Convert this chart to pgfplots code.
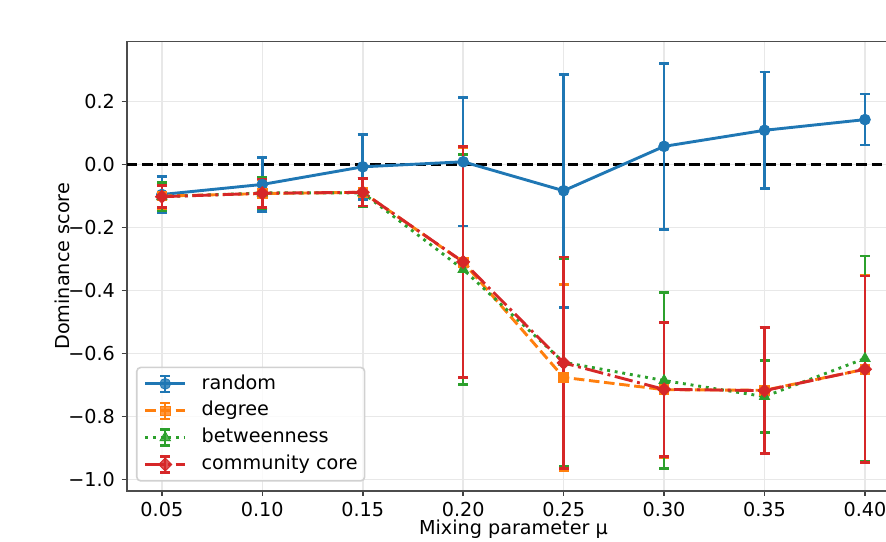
\documentclass[border=0pt]{standalone}
\usepackage{fontspec}
\setmainfont{DejaVu Sans}
\usepackage{pgfplots}
\pgfplotsset{compat=1.18}

\definecolor{cblue}{HTML}{1F77B4}
\definecolor{corange}{HTML}{FF7F0E}
\definecolor{cgreen}{HTML}{2CA02C}
\definecolor{cred}{HTML}{D62728}

\pgfplotsset{
  % legend handle: line, vertical error bar with caps, marker
  errleg/.style={legend image code/.code={
      \draw[##1, mark=none] (0pt,0pt) -- (20pt,0pt);
      \draw[##1, solid, mark=none, line width=1.2pt]
        (10pt,-4pt) -- (10pt,4pt)
        (7.5pt,-4pt) -- (12.5pt,-4pt)
        (7.5pt,4pt) -- (12.5pt,4pt);
      \draw[##1, only marks] plot coordinates {(10pt,0pt)};
  }},
  series/.style={color=#1, line width=1.45pt,
    mark options={solid, fill=#1, draw=#1, line width=0.4pt},
    error bars/y dir=both, error bars/y explicit,
    error bars/error bar style={solid, line width=1.3pt, color=#1},
    error bars/error mark options={solid, rotate=90, mark size=2.5pt, line width=1.3pt, color=#1},
    errleg},
}

\begin{document}
\fontsize{9.6}{11.5}\selectfont
\begin{tikzpicture}
\begin{axis}[
  name=ax,
  scale only axis, width=386.7pt, height=224.5pt,
  xmin=0.0325, xmax=0.4175, ymin=-1.036, ymax=0.3905,
  xtick={0.05,0.10,0.15,0.20,0.25,0.30,0.35,0.40},
  xticklabels={0.05,0.10,0.15,0.20,0.25,0.30,0.35,0.40},
  ytick={-1.0,-0.8,-0.6,-0.4,-0.2,0.0,0.2},
  yticklabels={−1.0,−0.8,−0.6,−0.4,−0.2,0.0,0.2},
  tick align=outside, tick pos=left, major tick length=2.5pt,
  every tick/.style={black!75, line width=0.8pt},
  axis line style={black!70, line width=0.8pt},
  grid=major, major grid style={color=black!9, line width=0.8pt},
  tick label style={font=\fontsize{9.6}{11.5}\selectfont},
  label style={font=\fontsize{9.6}{11.5}\selectfont},
  xlabel={Mixing parameter μ},
  ylabel={Dominance score},
  xlabel style={at={(axis description cs:0.5,0)}, anchor=base, yshift=-22.1pt},
  ylabel style={at={([xshift=-32.4pt]axis description cs:0,0.5)}, anchor=center},
  legend style={at={(axis description cs:0.012,0.02)}, anchor=south west,
    draw=black!18, line width=0.8pt, rounded corners=2pt,
    fill=white, fill opacity=0.8, text opacity=1,
    inner xsep=3.5pt, inner ysep=3.6pt, row sep=4.25pt, column sep=7.5pt,
    font=\fontsize{9.6}{11.5}\selectfont,
    nodes={inner sep=0pt, text height=7.2pt, text depth=2pt}},
  legend cell align=left,
]

\addplot[black, line width=1.3pt, dash pattern=on 5.3pt off 2.3pt, forget plot]
  coordinates {(0.0325,0) (0.4175,0)};

\addplot[series=cblue, mark=*, mark size=2.7pt] coordinates {
  (0.05,-0.095) +- (0,0.058)
  (0.10,-0.063) +- (0,0.086)
  (0.15,-0.007) +- (0,0.103)
  (0.20,0.009)  +- (0,0.204)
  (0.25,-0.083) +- (0,0.370)
  (0.30,0.058)  +- (0,0.264)
  (0.35,0.109)  +- (0,0.185)
  (0.40,0.143)  +- (0,0.081)
};
\addlegendentry{random}

\addplot[series=corange, dash pattern=on 5.3pt off 2.3pt, mark=square*, mark size=2.4pt] coordinates {
  (0.05,-0.100) +- (0,0.040)
  (0.10,-0.092) +- (0,0.045)
  (0.15,-0.088) +- (0,0.045)
  (0.20,-0.310) +- (0,0.365)
  (0.25,-0.676) +- (0,0.295)
  (0.30,-0.715) +- (0,0.215)
  (0.35,-0.717) +- (0,0.200)
  (0.40,-0.650) +- (0,0.297)
};
\addlegendentry{degree}

\addplot[series=cgreen, dash pattern=on 1.45pt off 2.4pt, mark=triangle*, mark size=3pt] coordinates {
  (0.05,-0.102) +- (0,0.045)
  (0.10,-0.090) +- (0,0.050)
  (0.15,-0.090) +- (0,0.045)
  (0.20,-0.333) +- (0,0.365)
  (0.25,-0.628) +- (0,0.330)
  (0.30,-0.686) +- (0,0.280)
  (0.35,-0.737) +- (0,0.114)
  (0.40,-0.616) +- (0,0.326)
};
\addlegendentry{betweenness}

\addplot[series=cred, dash pattern=on 9.2pt off 2.3pt on 1.45pt off 2.3pt, mark=square*, mark size=2.3pt,
  mark options={solid, fill=cred, draw=cred, line width=0.4pt, rotate=45}] coordinates {
  (0.05,-0.102) +- (0,0.035)
  (0.10,-0.091) +- (0,0.045)
  (0.15,-0.088) +- (0,0.043)
  (0.20,-0.309) +- (0,0.367)
  (0.25,-0.630) +- (0,0.336)
  (0.30,-0.714) +- (0,0.213)
  (0.35,-0.718) +- (0,0.200)
  (0.40,-0.650) +- (0,0.296)
};
\addlegendentry{community core}

\end{axis}
\pgfresetboundingbox
\useasboundingbox ([shift={(-63.35pt,-25.15pt)}]ax.south west)
  rectangle ([shift={(379.65pt,245.35pt)}]ax.south west);
\end{tikzpicture}
\end{document}
